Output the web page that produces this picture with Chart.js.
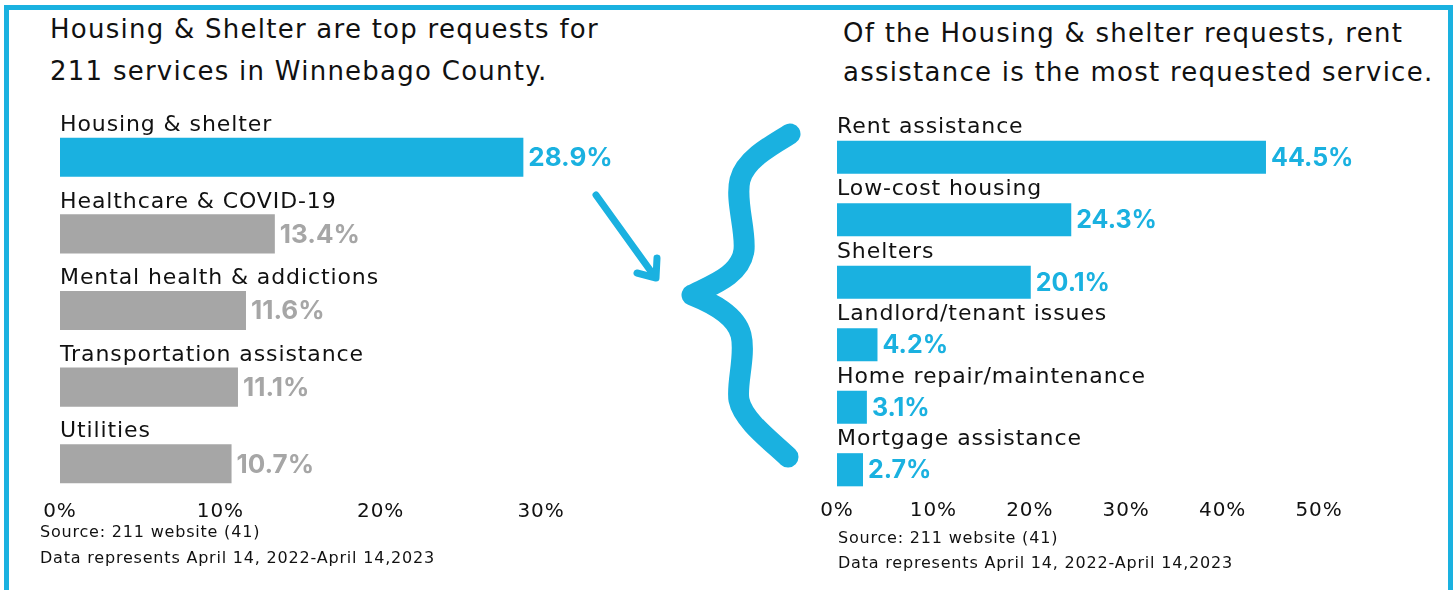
<!DOCTYPE html>
<html>
<head>
<meta charset="utf-8">
<script src="https://cdn.jsdelivr.net/npm/chart.js@4.4.0/dist/chart.umd.min.js"></script>
<style>
  body { margin: 0; width: 1456px; height: 590px; overflow: hidden; background: #fff; position: relative; font-family: "DejaVu Sans", sans-serif; color: #111; }
  .frame { position: absolute; left: 4px; top: 5px; width: 1439px; height: 700px; border: 5px solid #1ab1e0; }
  .title { position: absolute; font-size: 26px; letter-spacing: 1.25px; white-space: nowrap; }
  .note { position: absolute; font-size: 16px; letter-spacing: 0.8px; white-space: nowrap; }
  .box { position: absolute; top: 0; height: 590px; }
  svg { position: absolute; left: 0; top: 0; pointer-events: none; }
</style>
</head>
<body>
<div class="frame"></div>

<div class="title" style="left:50px; top:8px; line-height:42px;">Housing &amp; Shelter are top requests for<br>211 services in Winnebago County.</div>
<div class="title" style="left:843px; top:14px; line-height:39px;">Of the Housing &amp; shelter requests, rent<br>assistance is the most requested service.</div>

<div class="box" style="left:0; width:700px;"><canvas id="leftChart" width="700" height="590"></canvas></div>
<div class="box" style="left:700px; width:756px;"><canvas id="rightChart" width="756" height="590"></canvas></div>

<div class="note" style="left:40px; top:519px; line-height:26px;">Source: 211 website (41)<br>Data represents April 14, 2022-April 14,2023</div>
<div class="note" style="left:838px; top:525px; line-height:25px;">Source: 211 website (41)<br>Data represents April 14, 2022-April 14,2023</div>

<svg width="1456" height="590">
  <g stroke="#1ab1e0" fill="none" stroke-linecap="round" stroke-linejoin="round">
    <path d="M596,195 L655,277" stroke-width="7"/>
    <path d="M657,258 L656,278 L637,273" stroke-width="7"/>
    <path d="M790,134 C770,146 745,160 740,180 C735,200 746,230 744,250 C741,275 712,285 692,295 C712,303 736,315 741,335 C746,355 736,385 739,400 C743,420 770,440 788,457" stroke-width="21"/>
  </g>
</svg>

<script>
// Datos del gráfico izquierdo: solicitudes 211
const leftCategories = ['Housing & shelter', 'Healthcare & COVID-19', 'Mental health & addictions', 'Transportation assistance', 'Utilities'];
const leftValues = [28.9, 13.4, 11.6, 11.1, 10.7];
const leftTicks = [0, 10, 20, 30];

// Datos del gráfico derecho: desglose de vivienda y refugio
const rightCategories = ['Rent assistance', 'Low-cost housing', 'Shelters', 'Landlord/tenant issues', 'Home repair/maintenance', 'Mortgage assistance'];
const rightValues = [44.5, 24.3, 20.1, 4.2, 3.1, 2.7];
const rightTicks = [0, 10, 20, 30, 40, 50];

const BLUE = '#1ab1e0';
const GREY = '#a6a6a6';
const FONT = '"DejaVu Sans", sans-serif';
const BOLD_FONT = 'Inter, sans-serif';

// Espaciado de letras para las etiquetas de los ejes
// (el contexto se reinicia al dimensionar el canvas, por eso se pone en cada fase)
const spacing = {
    id: 'spacing',
    beforeLayout(chart) { chart.ctx.letterSpacing = '0.9px'; },
    beforeDraw(chart) { chart.ctx.letterSpacing = '0.9px'; }
};

// Etiquetas de valor al final de cada barra
const valueLabels = {
    id: 'valueLabels',
    afterDatasetsDraw(chart, args, opts) {
        const ctx = chart.ctx;
        const meta = chart.getDatasetMeta(0);
        const data = chart.data.datasets[0].data;
        ctx.save();
        ctx.letterSpacing = '0px';
        ctx.font = 'bold ' + opts.size + 'px ' + BOLD_FONT;
        ctx.textBaseline = 'middle';
        ctx.textAlign = 'left';
        meta.data.forEach((bar, i) => {
            ctx.fillStyle = opts.color(i);
            ctx.fillText(data[i].toFixed(1) + '%', bar.x + opts.gap, bar.y + opts.dy);
        });
        ctx.restore();
    }
};

function makeChart(id, categories, values, ticks, cfg) {
    return new Chart(document.getElementById(id), {
        type: 'bar',
        data: {
            labels: categories,
            datasets: [{
                data: values,
                backgroundColor: cfg.color,
                borderWidth: 0,
                categoryPercentage: 1,
                barPercentage: cfg.barPct
            }]
        },
        options: {
            indexAxis: 'y',
            responsive: false,
            animation: false,
            devicePixelRatio: 1,
            layout: { padding: cfg.padding },
            scales: {
                x: {
                    min: 0,
                    max: ticks[ticks.length - 1],
                    afterBuildTicks: scale => { scale.ticks = ticks.map(v => ({ value: v })); },
                    grid: { display: false, drawTicks: false },
                    border: { display: false },
                    ticks: {
                        padding: 0,
                        color: '#111',
                        font: { family: FONT, size: 20, lineHeight: 1 },
                        callback: v => v + '%'
                    }
                },
                y: {
                    grid: { display: false, drawTicks: false },
                    border: { display: false },
                    ticks: {
                        mirror: true,
                        padding: 0,
                        labelOffset: cfg.labelOffset,
                        color: '#111',
                        font: { family: FONT, size: 22 }
                    }
                }
            },
            plugins: {
                legend: { display: false },
                tooltip: { enabled: false },
                valueLabels: { size: cfg.valueSize, gap: 5, dy: 1, color: cfg.color }
            }
        },
        plugins: [spacing, valueLabels]
    });
}

makeChart('leftChart', leftCategories, leftValues, leftTicks, {
    color: ctx => (typeof ctx === 'number' ? ctx : ctx.dataIndex) === 0 ? BLUE : GREY,
    barPct: 0.51,
    labelOffset: -32,
    valueSize: 26,
    padding: { left: 60, right: 159, top: 119, bottom: 68 }
});

makeChart('rightChart', rightCategories, rightValues, rightTicks, {
    color: () => BLUE,
    barPct: 0.53,
    labelOffset: -30,
    valueSize: 25,
    padding: { left: 137, right: 137, top: 126, bottom: 69 }
});
</script>
</body>
</html>
